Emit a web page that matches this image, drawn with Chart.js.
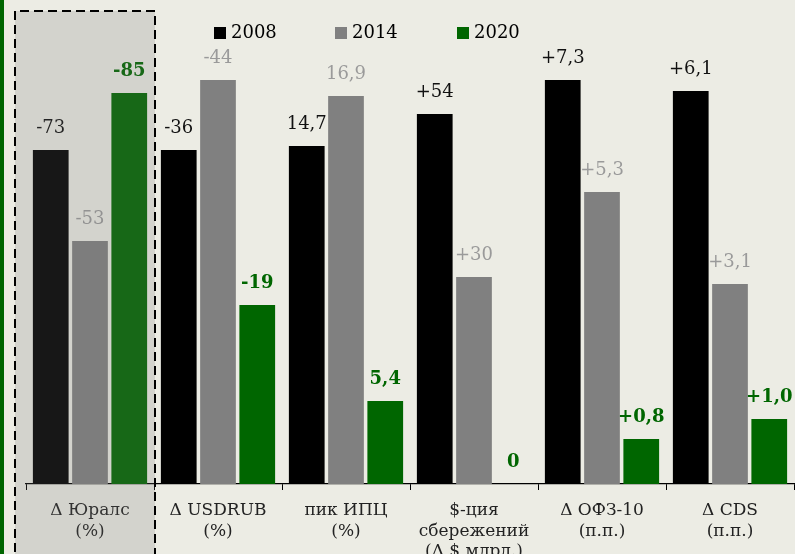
<!DOCTYPE html>
<html>
<head>
<meta charset="utf-8">
<script src="https://cdn.jsdelivr.net/npm/chart.js@4.4.1/dist/chart.umd.min.js"></script>
<style>
html,body{margin:0;padding:0;background:#ECECE4;}
#wrap{width:795px;height:554px;position:relative;}
</style>
</head>
<body>
<div id="wrap"><canvas id="c" width="795" height="554"></canvas></div>
<script>
// Categories (x-axis labels, multi-line)
const categories = [
  ["Δ Юралс", "(%)"],
  ["Δ USDRUB", "(%)"],
  ["пик ИПЦ", "(%)"],
  ["$-ция", "сбережений", "(Δ $ млрд.)"],
  ["Δ ОФЗ-10", "(п.п.)"],
  ["Δ CDS", "(п.п.)"]
];
const seriesNames = ["2008", "2014", "2020"];
// Displayed values (text labels above bars)
const labels2008 = ["-73", "-36", "14,7", "+54", "+7,3", "+6,1"];
const labels2014 = ["-53", "-44", "16,9", "+30", "+5,3", "+3,1"];
const labels2020 = ["-85", "-19", "5,4", "0", "+0,8", "+1,0"];
// Relative bar heights as drawn (each group is scaled separately, no visible y axis)
const heights2008 = [334, 334, 338, 370, 404, 393];
const heights2014 = [243, 404, 388, 207, 292, 200];
const heights2020 = [391, 179, 83, 0, 45, 65];

const colors = ["#000000", "#808080", "#006600"];
const labelColors = ["#111111", "#9a9a9a", "#006600"];
const labelBold = [false, false, true];
const valueLabels = [labels2008, labels2014, labels2020];

const SERIF = '"DejaVu Serif", "Liberation Serif", serif';

const decor = {
  id: 'decor',
  beforeDraw(chart) {
    const ctx = chart.ctx;
    ctx.save();
    ctx.fillStyle = '#ECECE4';
    ctx.fillRect(0, 0, chart.width, chart.height);
    ctx.fillStyle = '#006600';
    ctx.fillRect(0, 0, 4, chart.height);
    ctx.restore();
  },
  afterDatasetsDraw(chart) {
    const ctx = chart.ctx;
    ctx.save();
    ctx.textAlign = 'center';
    ctx.textBaseline = 'middle';
    chart.data.datasets.forEach((ds, di) => {
      const meta = chart.getDatasetMeta(di);
      meta.data.forEach((bar, i) => {
        ctx.fillStyle = labelColors[di];
        ctx.font = (labelBold[di] ? 'bold ' : '') + '18px ' + SERIF;
        ctx.fillText(valueLabels[di][i], bar.x, bar.y - 22);
      });
    });
    ctx.restore();
  },
  afterDraw(chart) {
    const ctx = chart.ctx;
    ctx.save();
    // highlight box over first category
    ctx.fillStyle = 'rgba(115,115,117,0.2)';
    ctx.fillRect(15, 11, 140, 560);
    ctx.strokeStyle = '#000';
    ctx.lineWidth = 2;
    ctx.setLineDash([9, 5]);
    ctx.beginPath();
    ctx.moveTo(15, 580);
    ctx.lineTo(15, 11);
    ctx.lineTo(155, 11);
    ctx.lineTo(155, 580);
    ctx.stroke();
    ctx.setLineDash([]);
    // legend
    const lx = [214, 335, 457];
    ctx.font = '18px ' + SERIF;
    ctx.textBaseline = 'middle';
    ctx.textAlign = 'left';
    seriesNames.forEach((n, i) => {
      ctx.fillStyle = colors[i];
      ctx.fillRect(lx[i], 27, 12, 12);
      ctx.fillStyle = '#000';
      ctx.fillText(n, lx[i] + 17, 33);
    });
    ctx.restore();
  }
};

new Chart(document.getElementById('c'), {
  type: 'bar',
  data: {
    labels: categories,
    datasets: [
      { label: seriesNames[0], data: heights2008, backgroundColor: colors[0] },
      { label: seriesNames[1], data: heights2014, backgroundColor: colors[1] },
      { label: seriesNames[2], data: heights2020, backgroundColor: colors[2] }
    ]
  },
  options: {
    responsive: false,
    animation: false,
    devicePixelRatio: 1,
    layout: { padding: { left: 26, right: 1, top: 44, bottom: 0 } },
    datasets: { bar: { categoryPercentage: 0.92, barPercentage: 0.91 } },
    plugins: { legend: { display: false }, tooltip: { enabled: false } },
    scales: {
      y: { display: false, min: 0, max: 440 },
      x: {
        afterFit(scale) { scale.height = 70; },
        border: { display: true, color: '#000', width: 1.2 },
        grid: { display: true, drawOnChartArea: false, drawTicks: true, tickLength: 6, color: '#000', lineWidth: 1, offset: true },
        ticks: {
          color: '#222',
          padding: 11,
          maxRotation: 0,
          autoSkip: false,
          font: { family: SERIF, size: 17, lineHeight: 1.18 }
        }
      }
    }
  },
  plugins: [decor]
});
</script>
</body>
</html>
